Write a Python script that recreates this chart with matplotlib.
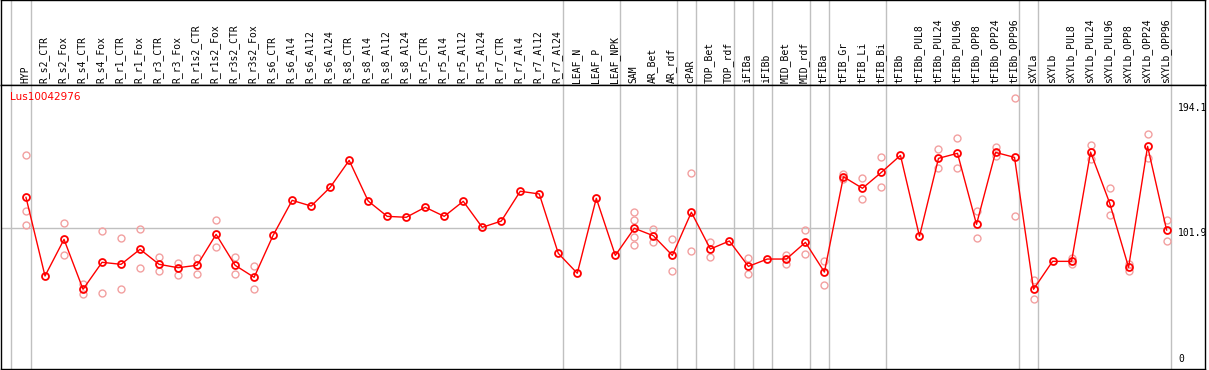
import numpy as np
import matplotlib
matplotlib.use('Agg')
import matplotlib.pyplot as plt
import matplotlib.transforms as mtransforms

gene = 'Lus10042976'

samples = ['HYP', 'R_s2_CTR', 'R_s2_Fox', 'R_s4_CTR', 'R_s4_Fox', 'R_r1_CTR', 'R_r1_Fox',
           'R_r3_CTR', 'R_r3_Fox', 'R_r1s2_CTR', 'R_r1s2_Fox', 'R_r3s2_CTR', 'R_r3s2_Fox',
           'R_s6_CTR', 'R_s6_Al4', 'R_s6_Al12', 'R_s6_Al24', 'R_s8_CTR', 'R_s8_Al4',
           'R_s8_Al12', 'R_s8_Al24', 'R_r5_CTR', 'R_r5_Al4', 'R_r5_Al12', 'R_r5_Al24',
           'R_r7_CTR', 'R_r7_Al4', 'R_r7_Al12', 'R_r7_Al24', 'LEAF_N', 'LEAF_P', 'LEAF_NPK',
           'SAM', 'AR_Bet', 'AR_rdf', 'cPAR', 'TOP_Bet', 'TOP_rdf', 'iFIBa', 'iFIBb',
           'MID_Bet', 'MID_rdf', 'tFIBa', 'tFIB_Gr', 'tFIB_Li', 'tFIB_Bi', 'tFIBb',
           'tFIBb_PUL8', 'tFIBb_PUL24', 'tFIBb_PUL96', 'tFIBb_OPP8', 'tFIBb_OPP24',
           'tFIBb_OPP96', 'sXYLa', 'sXYLb', 'sXYLb_PUL8', 'sXYLb_PUL24', 'sXYLb_PUL96',
           'sXYLb_OPP8', 'sXYLb_OPP24', 'sXYLb_OPP96']

# mean expression per sample
means = [124.7, 66.7, 93.7, 56.9, 76.8, 75.3, 86.4, 75.3, 72.8, 74.6, 97.4, 74.6, 65.7,
         96.7, 122.5, 118.3, 132.1, 152.0, 122.0, 110.7, 110.0, 117.4, 110.7, 121.8, 102.6,
         107.2, 129.2, 127.2, 83.4, 68.7, 124.0, 81.9,
         101.9, 96.4, 81.9, 113.7, 86.6, 92.5, 73.8, 79.2, 79.2, 91.5, 69.6,
         139.9, 131.4, 143.2, 155.7, 96.0, 153.5, 157.2, 104.8, 157.9, 154.2,
         56.9, 77.5, 77.5, 158.1, 120.7, 73.1, 162.3, 100.6]

# individual replicates (empty where they sit under the mean)
replicates = [[155.7, 114.4, 104.5], [], [105.6, 81.9], [60.8, 53.4], [99.6, 53.9],
              [94.5, 56.9], [101.1, 72.4], [80.5, 70.1], [76.5, 67.6], [79.7, 68.4],
              [107.8, 87.8], [80.5, 68.4], [73.8, 56.9],
              [], [], [], [], [], [], [], [], [], [], [], [], [], [], [], [], [], [], [],
              [113.7, 107.8, 95.7, 89.8], [101.6, 91.5], [93.7, 70.1], [142.4, 84.9],
              [91.5, 80.5], [], [79.7, 67.9], [], [82.4, 75.5], [100.6, 82.7], [78.0, 59.8],
              [141.7, 138.0], [138.7, 123.3], [154.2, 132.1], [], [], [160.1, 146.1],
              [168.2, 146.1], [114.8, 94.5], [161.6, 155.0], [197.8, 110.9],
              [63.7, 49.5], [], [80.2, 75.5], [163.3, 152.8], [131.4, 111.5],
              [75.5, 70.1], [171.4, 153.5], [108.0, 92.5]]

# index of the last sample in each group
group_ends = [-1, 0, 28, 31, 34, 35, 37, 38, 39, 41, 42, 45, 52, 53, 60]
tick_values = [194.1, 101.9, 0]

W, H = 1209, 370
fig = plt.figure(figsize=(W / 100, H / 100), dpi=100)

x = np.arange(len(samples))
xlim = ((1 - 26) / 19.01, (1205 - 26) / 19.01)
sep_x = [g + 0.237 for g in group_ends]
grey = '#c0c0c0'
mono = 'DejaVu Sans Mono'

# header with sample names
head = fig.add_axes([1 / W, (H - 85) / H, 1204 / W, 85 / H])
head.set_xlim(*xlim)
head.set_ylim(0, 1)
head.set_xticks([])
head.set_yticks([])
for s in head.spines.values():
    s.set_linewidth(1.0)
    s.set_color('black')
for sx in sep_x:
    head.axvline(sx, color=grey, lw=1.0)
for i, name in enumerate(samples):
    head.text(i - 0.05, 2 / 85, name, rotation=90, ha='center', va='bottom',
              fontsize=7, family=mono, color='black')

# data panel
ax = fig.add_axes([1 / W, 1 / H, 1204 / W, 284 / H])
ax.set_xlim(*xlim)
ax.set_ylim(-1.92, 207.6)
ax.set_xticks([])
ax.set_yticks([])
for s in ax.spines.values():
    s.set_linewidth(1.0)
    s.set_color('black')
for sx in sep_x:
    ax.axvline(sx, color=grey, lw=1.0, zorder=1)
ax.plot([xlim[0], sep_x[-1]], [tick_values[1]] * 2, color=grey, lw=1.0, zorder=1)

for i, reps in enumerate(replicates):
    if reps:
        ax.plot([i] * len(reps), reps, 'o', ms=5, mfc='none', mec='#f2a0a0', mew=1.0, zorder=2)

ax.plot(x, means, '-', color='red', lw=1.0, zorder=3)
ax.plot(x, means, 'o', ms=5, mfc='none', mec='red', mew=1.3, zorder=4)

lab_x = (1178 - 26) / 19.01
ax.text(lab_x, tick_values[0], f'{tick_values[0]:g}', ha='left', va='top', fontsize=7, family=mono)
ax.text(lab_x, tick_values[1], f'{tick_values[1]:g}', ha='left', va='top', fontsize=7, family=mono)
ax.text(lab_x, tick_values[2] + 1.5, f'{tick_values[2]:g}', ha='left', va='bottom', fontsize=7, family=mono)

fig.text(10 / W, (H - 97) / H, gene, color='red', fontsize=7.5, va='center', ha='left')

fig.savefig('out.png', dpi=100)
